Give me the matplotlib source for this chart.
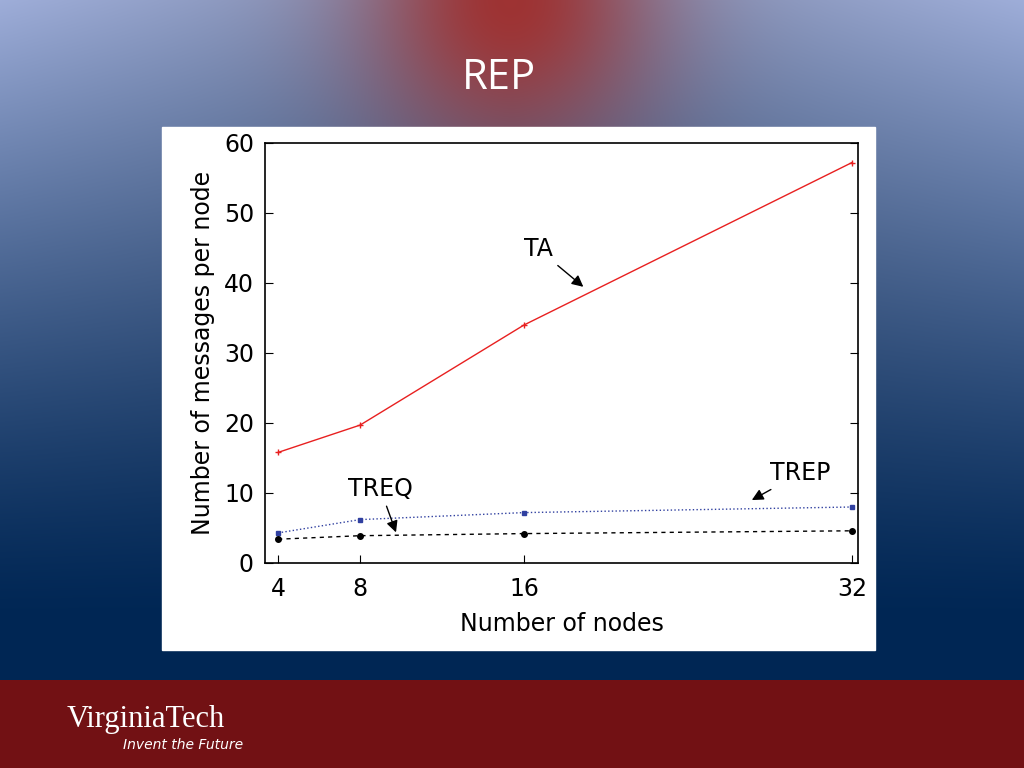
import numpy as np
import matplotlib
matplotlib.use("Agg")
import matplotlib.pyplot as plt
from matplotlib.patches import Rectangle

nodes = [4, 8, 16, 32]
ta = [15.8, 19.7, 34.0, 57.2]
trep = [4.3, 6.2, 7.2, 8.0]
treq = [3.4, 3.9, 4.2, 4.6]

fig = plt.figure(figsize=(10.24, 7.68), dpi=100)

H, W = 768, 1024
yy, xx = np.mgrid[0:H, 0:W]
t = np.clip(yy / 620.0, 0, 1)[..., None]
top = np.array([0.62, 0.68, 0.85])
bot = np.array([0.0, 0.15, 0.33])
img = top * (1 - t) ** 1.3 + bot * (1 - (1 - t) ** 1.3)
side = np.abs(xx - W / 2) / (W / 2)
img = img * (0.75 + 0.25 * side[..., None]) + bot * (0.25 * (1 - side[..., None])) * t
r = np.exp(-(((xx - 510) / 140.0) ** 2 + ((yy - 0) / 150.0) ** 2))[..., None]
red = np.array([0.62, 0.2, 0.2])
img = img * (1 - r) + red * r
img[680:] = np.array([0.45, 0.07, 0.08])
bg = fig.add_axes([0, 0, 1, 1])
bg.imshow(np.clip(img, 0, 1), aspect='auto', extent=[0, 1, 0, 1])
bg.axis('off')
bg.set_xlim(0, 1); bg.set_ylim(0, 1)
bg.text(0.487, 1 - 78 / 768, "REP", color='white', fontsize=30, ha='center', va='center', family='Open Sans')
bg.add_patch(Rectangle((162 / W, 1 - 650 / H), 713 / W, 523 / H, color='white'))
bg.text(0.065, 1 - 720 / H, "VirginiaTech", color='white', fontsize=22, family='Liberation Serif', va='center')
bg.text(0.12, 1 - 745 / H, "Invent the Future", color='white', fontsize=10, style='italic', va='center')

ax = fig.add_axes([265 / W, 1 - 563 / H, 593 / W, 420 / H])
ax.plot(nodes, ta, color='#e82020', lw=1, marker='+', ms=5)
ax.plot(nodes, trep, color='#3040a0', lw=1, ls=':', marker='s', ms=3)
ax.plot(nodes, treq, color='black', lw=1, ls=(0, (3, 3)), marker='o', ms=4)
ax.set_xlim(3.36, 32.3)
ax.set_ylim(0, 60)
ax.set_xticks(nodes)
ax.set_yticks(range(0, 61, 10))
ax.tick_params(labelsize=17, direction='in', length=6, right=True, top=False)
ax.tick_params(axis='x', pad=10)
ax.tick_params(axis='y', pad=8)
ax.set_xlabel("Number of nodes", fontsize=17, labelpad=8)
ax.set_ylabel("Number of messages per node", fontsize=17, labelpad=6)
for s in ax.spines.values():
    s.set_linewidth(1.2)
ap = dict(arrowstyle='-|>', color='black', lw=1)
ax.annotate("TA", xy=(19.0, 39.2), xytext=(16.0, 43.8), fontsize=17, arrowprops=ap)
ax.annotate("TREP", xy=(27.0, 8.8), xytext=(28.0, 11.8), fontsize=17, arrowprops=ap)
ax.annotate("TREQ", xy=(9.8, 4.0), xytext=(7.4, 9.6), fontsize=17, arrowprops=ap)

fig.savefig("out.png", dpi=100)
